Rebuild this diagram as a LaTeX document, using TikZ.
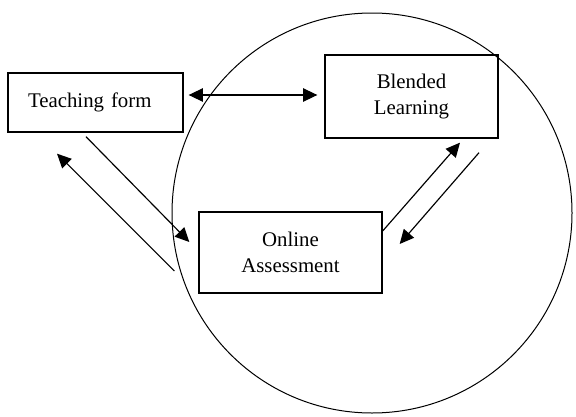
\documentclass[tikz,border=0pt]{standalone}
\usepackage{fontspec}
\setmainfont{Liberation Serif}
\usetikzlibrary{arrows.meta,calc}
\tikzset{
	>={Triangle[length=8.5pt,width=8pt]},
	box/.style={draw, line width=0.8pt, inner sep=0pt, font=\fontsize{12.5}{15.5}\selectfont},
	link/.style={line width=0.7pt}
}
\begin{document}
\begin{tikzpicture}[x=0.6pt, y=-0.6pt]
	\useasboundingbox (0,0) rectangle (576,416);
	% Kreis
	\draw[line width=0.6pt] (372,213) circle[radius=200];
	% Kaesten
	\node[box, minimum height=35.4pt, inner xsep=12pt, text width=81pt, align=left] (teaching) at (95.5,102.5) {Teaching form};
	\node[box, minimum width=103.8pt, minimum height=49.8pt, align=center] (blended) at (411.5,96.5) {Blended\\Learning};
	\node[box, minimum width=109.8pt, minimum height=48.6pt, align=center] (online) at (290.5,252.5) {Online\\Assessment};
	% Pfeile
	\draw[link, <->] ($(teaching.east)+(5,-7.5)$) -- ($(blended.west)+(-7,-1.5)$);
	\draw[link, ->] ($(teaching.south)+(-9.5,4)$) -- ($(online.west)+(-9,-10.5)$);
	\draw[link, ->] ($(online.west)+(-24,18.5)$) -- ($(teaching.south)+(-38.5,21)$);
	\draw[link, ->] ($(online.east)+(0,-21.5)$) -- ($(blended.south)+(48.5,4)$);
	\draw[link, ->] ($(blended.south)+(67.5,14)$) -- ($(online.east)+(17,-8.5)$);
\end{tikzpicture}
\end{document}
